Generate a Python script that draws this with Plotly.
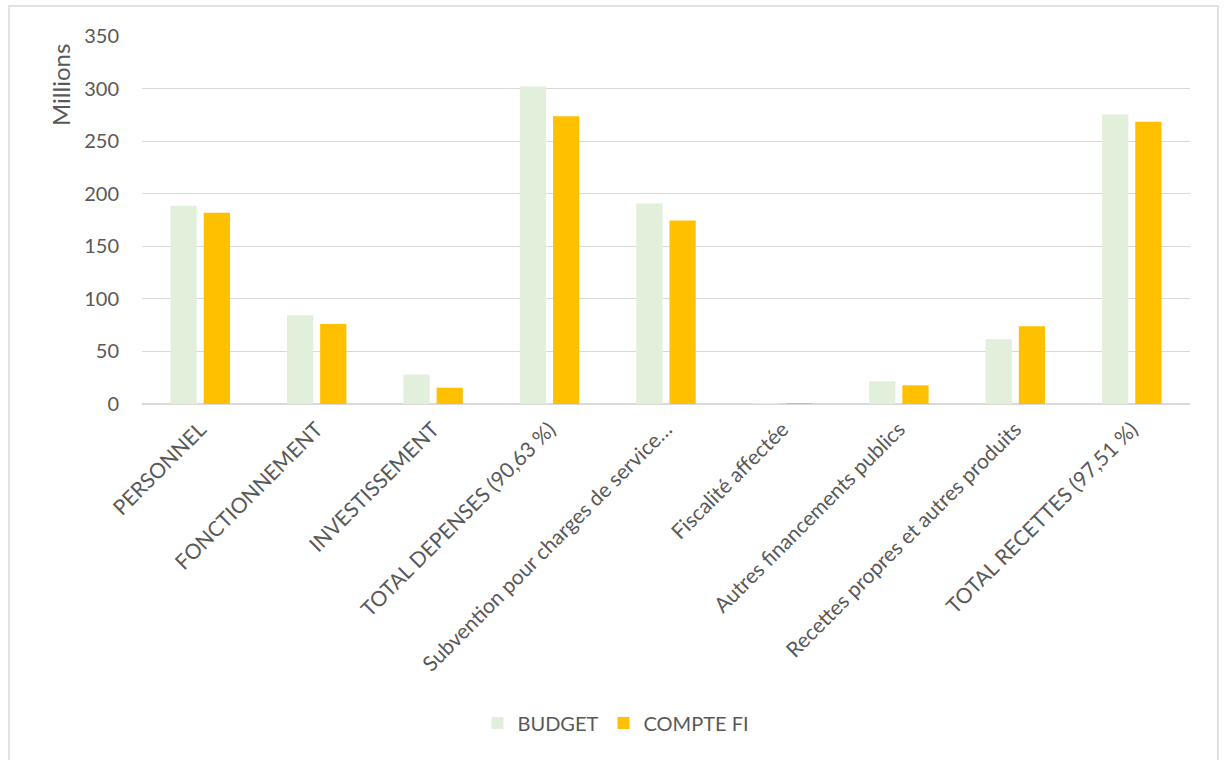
import plotly.graph_objects as go

categories = [
    "PERSONNEL",
    "FONCTIONNEMENT",
    "INVESTISSEMENT",
    "TOTAL DEPENSES (90,63 %)",
    "Subvention pour charges de service…",
    "Fiscalité affectée",
    "Autres financements publics",
    "Recettes propres et autres produits",
    "TOTAL RECETTES (97,51 %)",
]
budget = [188.5, 84.5, 28.0, 301.9, 190.6, 0.4, 21.6, 61.5, 275.3]
compte_fi = [182.0, 76.0, 15.5, 273.6, 174.5, 0.6, 17.8, 74.0, 268.4]

y_ticks = [0, 50, 100, 150, 200, 250, 300, 350]

TEXT = "#595959"
GRID = "#D9D9D9"
FONT = "Lato"

fig = go.Figure()
fig.add_trace(go.Bar(name="BUDGET", x=categories, y=budget,
                     marker=dict(color="#E2EFDA", line=dict(width=0))))
fig.add_trace(go.Bar(name="COMPTE FI", x=categories, y=compte_fi,
                     marker=dict(color="#FFC000", line=dict(width=0))))

L, R, T, B = 142, 34, 36, 356
W, H = 1224, 760
pw, ph = W - L - R, H - T - B

def px_x(x):
    return (x - L) / pw

def px_y(y):
    return (H - B - y) / ph

fig.update_layout(
    width=W, height=H,
    margin=dict(l=L, r=R, t=T, b=B),
    paper_bgcolor="white",
    plot_bgcolor="white",
    barmode="group",
    bargap=0.43,
    bargroupgap=0.21,
    font=dict(family=FONT, color=TEXT, size=20),
    showlegend=True,
    legend=dict(
        orientation="h",
        x=px_x(616), xanchor="center",
        y=px_y(723), yanchor="middle",
        font=dict(size=20, color=TEXT, family=FONT),
        itemwidth=30,
        traceorder="normal",
    ),
    xaxis=dict(
        tickangle=-45,
        tickfont=dict(size=21, color=TEXT, family=FONT),
        showgrid=False,
        showline=False,
        ticks="",
        ticklabelstandoff=8,
    ),
    yaxis=dict(
        range=[0, 350],
        tickvals=y_ticks,
        tickfont=dict(size=20, color=TEXT, family=FONT),
        showgrid=True,
        gridcolor=GRID,
        gridwidth=1.3,
        zeroline=True,
        zerolinecolor=GRID,
        zerolinewidth=1.5,
        showline=False,
        ticks="",
        ticklabelstandoff=22,
    ),
    annotations=[dict(
        text="Millions", textangle=-90,
        xref="paper", yref="paper",
        x=px_x(60), y=px_y(85),
        xanchor="center", yanchor="middle",
        showarrow=False,
        font=dict(size=24, color=TEXT, family=FONT),
    )],
    shapes=[dict(
        type="rect", xref="paper", yref="paper",
        x0=px_x(9), x1=px_x(1218), y0=px_y(770), y1=px_y(6),
        line=dict(color="#D9D9D9", width=1.5),
        fillcolor="rgba(0,0,0,0)",
        layer="below",
    )],
)

fig.write_html("out.html")
